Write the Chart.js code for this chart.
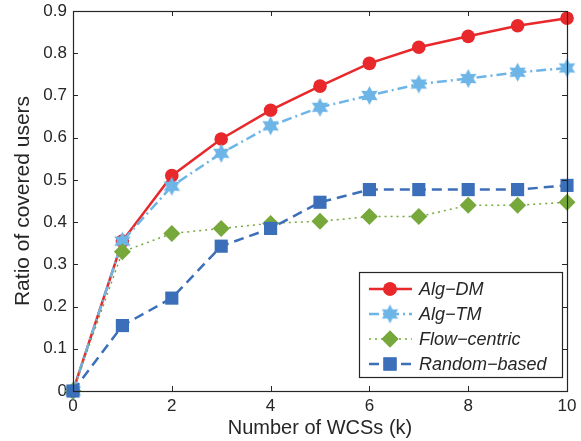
<!DOCTYPE html>
<html>
<head>
<meta charset="utf-8">
<script src="https://cdn.jsdelivr.net/npm/chart.js@4/dist/chart.umd.min.js"></script>
<style>
  html, body { margin: 0; padding: 0; background: #fff; }
  #wrap { width: 581px; height: 441px; }
</style>
</head>
<body>
<div id="wrap"><canvas id="chart" width="581" height="441"></canvas></div>
<script>
// Coverage vs number of WCSs

const kValues = [0, 1, 2, 3, 4, 5, 6, 7, 8, 9, 10];
const algDM = [0, 0.355, 0.51, 0.597, 0.665, 0.722, 0.776, 0.814, 0.840, 0.865, 0.883];
const algTM = [0, 0.355, 0.485, 0.563, 0.628, 0.672, 0.700, 0.727, 0.740, 0.755, 0.765];
const flowCentric = [0, 0.330, 0.373, 0.385, 0.397, 0.402, 0.413, 0.413, 0.440, 0.440, 0.447];
const randomBased = [0, 0.155, 0.220, 0.343, 0.385, 0.447, 0.477, 0.477, 0.477, 0.477, 0.487];
const seriesNames = ['Alg\u2212DM', 'Alg\u2212TM', 'Flow\u2212centric', 'Random\u2212based'];
const xTicks = [0, 2, 4, 6, 8, 10];
const yTicks = [0, 0.1, 0.2, 0.3, 0.4, 0.5, 0.6, 0.7, 0.8, 0.9];

const RED = '#E8282B';
const LIGHT_BLUE = '#6DB5E6';
const GREEN = '#77A83B';
const BLUE = '#3B6FB9';
const AXIS = '#262626';
const FONT = '"Liberation Sans", Arial, Helvetica, sans-serif';

// six pointed star marker (like matlab hexagram)
function makeStar(color, R) {
    const size = Math.ceil(R * 2 + 2);
    const c = document.createElement('canvas');
    c.width = size;
    c.height = size;
    const ctx = c.getContext('2d');
    const cx = size / 2, cy = size / 2;
    const r = R * 0.55;
    ctx.beginPath();
    for (let i = 0; i < 12; i++) {
        const a = -Math.PI / 2 + i * Math.PI / 6;
        const rad = i % 2 === 0 ? R : r;
        const px = cx + rad * Math.cos(a);
        const py = cy + rad * Math.sin(a);
        if (i === 0) ctx.moveTo(px, py); else ctx.lineTo(px, py);
    }
    ctx.closePath();
    ctx.fillStyle = color;
    ctx.fill();
    return c;
}

const starMarker = makeStar(LIGHT_BLUE, 9.5);

const styles = [
    { color: RED, dash: [], width: 2.5, point: 'circle', radius: 6.8 },
    { color: LIGHT_BLUE, dash: [10, 4, 2, 4], width: 2.5, point: starMarker, radius: 9 },
    { color: GREEN, dash: [2, 4], width: 1.5, point: 'rectRot', radius: 8.5 },
    { color: BLUE, dash: [10, 6], width: 2.5, point: 'rect', radius: 9.3 }
];

const allSeries = [algDM, algTM, flowCentric, randomBased];

// frame with inward ticks on all four sides
const framePlugin = {
    id: 'frame',
    afterDatasetsDraw(chart) {
        const { ctx, chartArea: a, scales } = chart;
        ctx.save();
        ctx.strokeStyle = AXIS;
        ctx.lineWidth = 1;
        ctx.beginPath();
        xTicks.forEach(v => {
            const x = Math.round(scales.x.getPixelForValue(v)) + 0.5;
            ctx.moveTo(x, a.bottom); ctx.lineTo(x, a.bottom - 5);
            ctx.moveTo(x, a.top); ctx.lineTo(x, a.top + 5);
        });
        yTicks.forEach(v => {
            const y = Math.round(scales.y.getPixelForValue(v)) + 0.5;
            ctx.moveTo(a.left, y); ctx.lineTo(a.left + 5, y);
            ctx.moveTo(a.right, y); ctx.lineTo(a.right - 5, y);
        });
        ctx.stroke();
        ctx.lineWidth = 1.2;
        ctx.strokeRect(Math.round(a.left) + 0.5, Math.round(a.top) + 0.5,
            Math.round(a.right - a.left), Math.round(a.bottom - a.top));
        ctx.restore();
    }
};

// legend box in lower right
const legendPlugin = {
    id: 'boxLegend',
    afterDraw(chart) {
        const ctx = chart.ctx;
        const a = chart.chartArea;
        const boxRight = a.right - 5;
        const boxLeft = boxRight - 203;
        const boxBottom = a.bottom - 14;
        const boxTop = boxBottom - 105;
        ctx.save();
        ctx.fillStyle = '#fff';
        ctx.fillRect(boxLeft, boxTop, boxRight - boxLeft, boxBottom - boxTop);
        ctx.strokeStyle = AXIS;
        ctx.lineWidth = 1.2;
        ctx.strokeRect(boxLeft + 0.5, boxTop + 0.5, boxRight - boxLeft, boxBottom - boxTop);

        seriesNames.forEach((name, i) => {
            const st = styles[i];
            const y = boxTop + 17 + i * 25;
            const x0 = boxLeft + 10, x1 = boxLeft + 53, xm = boxLeft + 31;
            ctx.strokeStyle = st.color;
            ctx.lineWidth = st.width;
            ctx.setLineDash(st.dash);
            ctx.beginPath();
            ctx.moveTo(x0, y); ctx.lineTo(x1, y);
            ctx.stroke();
            ctx.setLineDash([]);
            ctx.fillStyle = st.color;
            if (typeof st.point === 'string') {
                ctx.beginPath();
                Chart.helpers.drawPoint(ctx, {
                    pointStyle: st.point, radius: st.radius, rotation: 0, borderWidth: 0
                }, xm, y);
                ctx.fill();
            } else {
                ctx.drawImage(st.point, xm - st.point.width / 2, y - st.point.height / 2);
            }
            ctx.fillStyle = AXIS;
            ctx.font = 'italic 18px ' + FONT;
            ctx.textBaseline = 'middle';
            ctx.textAlign = 'left';
            ctx.fillText(name, boxLeft + 60, y + 1);
        });
        ctx.restore();
    }
};

const datasets = allSeries.map((vals, i) => ({
    label: seriesNames[i],
    data: kValues.map((k, j) => ({ x: k, y: vals[j] })),
    borderColor: styles[i].color,
    backgroundColor: styles[i].color,
    borderWidth: styles[i].width,
    borderDash: styles[i].dash,
    pointStyle: styles[i].point,
    pointRadius: styles[i].radius,
    pointBorderWidth: 0,
    pointBackgroundColor: styles[i].color,
    tension: 0,
    clip: false,
    order: 3 - i
}));

new Chart(document.getElementById('chart').getContext('2d'), {
    type: 'line',
    data: { datasets: datasets },
    options: {
        responsive: false,
        animation: false,
        layout: { padding: { top: 11, right: 14, left: 0, bottom: 0 } },
        plugins: {
            legend: { display: false },
            tooltip: { enabled: false }
        },
        scales: {
            x: {
                type: 'linear',
                min: 0,
                max: 10,
                afterFit(scale) {
                    scale.height = 50;
                    scale.paddingLeft = 0;
                    scale.paddingRight = 0;
                },
                afterBuildTicks(scale) { scale.ticks = xTicks.map(v => ({ value: v })); },
                grid: { display: false, drawTicks: false },
                border: { display: false },
                ticks: {
                    padding: 5,
                    color: AXIS,
                    font: { family: FONT, size: 17 },
                    maxRotation: 0
                },
                title: {
                    display: true,
                    text: 'Number of WCSs (k)',
                    color: AXIS,
                    font: { family: FONT, size: 20 },
                    padding: { top: 0, bottom: 1 }
                }
            },
            y: {
                type: 'linear',
                min: 0,
                max: 0.9,
                afterFit(scale) {
                    scale.width = 73;
                    scale.paddingTop = 0;
                    scale.paddingBottom = 0;
                },
                afterBuildTicks(scale) { scale.ticks = yTicks.map(v => ({ value: v })); },
                grid: { display: false, drawTicks: false },
                border: { display: false },
                ticks: {
                    padding: 6,
                    color: AXIS,
                    font: { family: FONT, size: 17 },
                    callback: v => String(+v.toFixed(1))
                },
                title: {
                    display: true,
                    text: 'Ratio of covered users',
                    color: AXIS,
                    font: { family: FONT, size: 21 },
                    padding: { top: 11, bottom: 0 }
                }
            }
        }
    },
    plugins: [framePlugin, legendPlugin]
});
</script>
</body>
</html>
